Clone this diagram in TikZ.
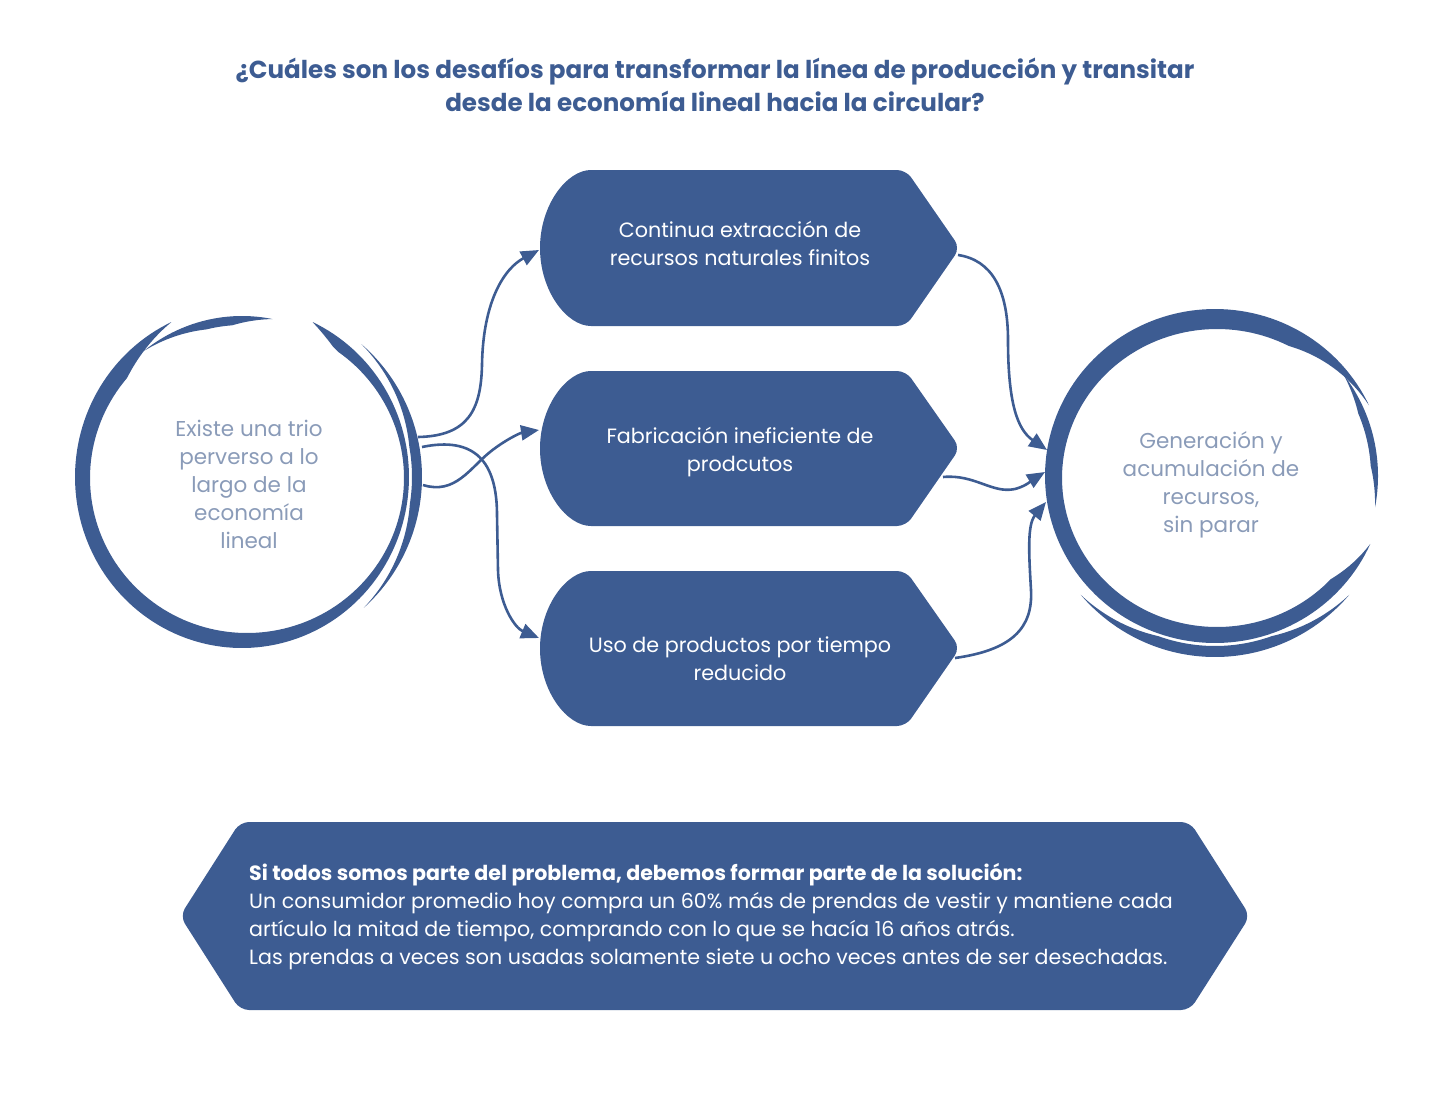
\documentclass[tikz,border=0pt]{standalone}
\usepackage{fontspec}
\setmainfont{Poppins}
\usetikzlibrary{arrows.meta}
\definecolor{ink}{HTML}{3D5C92}
\definecolor{soft}{HTML}{8A9BB8}
\newcommand\setouter[4]{\def\Ocx{#1}\def\Ocy{#2}\def\Orx{#3}\def\Ory{#4}}
\newcommand\setinner[4]{\def\Icx{#1}\def\Icy{#2}\def\Irx{#3}\def\Iry{#4}}
\newcommand\brushfrac[4]{min(1,((\x)-(#1))/((#3)*((#2)-(#1))),((#2)-(\x))/((#4)*((#2)-(#1))))}
\newcommand\mybrush[4]{%
  \fill[ink] plot[domain=#1:#2,samples=150] ({\Ocx+\Orx*cos(\x)},{\Ocy+\Ory*sin(\x)})
  -- plot[domain=#2:#1,samples=150] ({\Ocx+\Orx*cos(\x)+\brushfrac{#1}{#2}{#3}{#4}*(\Icx+\Irx*cos(\x)-\Ocx-\Orx*cos(\x))},{\Ocy+\Ory*sin(\x)+\brushfrac{#1}{#2}{#3}{#4}*(\Icy+\Iry*sin(\x)-\Ocy-\Ory*sin(\x))}) -- cycle;}
\tikzset{
  conn/.style={draw=ink, line width=2.6pt, -{Triangle[length=18pt,width=15pt]}},
  boxfill/.style={fill=ink, rounded corners=9pt},
  boxtext/.style={text=white, align=center, font=\fontsize{20.7}{28}\selectfont, inner sep=0pt},
  circtext/.style={text=soft, align=center, font=\fontsize{21.5}{28}\selectfont, inner sep=0pt},
  titletext/.style={text=ink, align=center, font=\fontsize{24.6}{33}\selectfont\bfseries, inner sep=0pt},
  bottomtext/.style={text=white, align=left, font=\fontsize{20.6}{28}\selectfont, inner sep=0pt},
}
\begin{document}
\begin{tikzpicture}[x=1pt,y=-1pt]
\useasboundingbox (0,0) rectangle (1430,1114);

% title
\node[titletext] (title) at (715,85) {¿Cuáles son los desafíos para transformar la línea de producción y transitar\\desde la economía lineal hacia la circular?};

% connector end points
\coordinate (lA) at (418,437);
\coordinate (lB) at (423,485);
\coordinate (lC) at (422,447);
\coordinate (b1w) at (539,250);
\coordinate (b2w) at (539,430);
\coordinate (b3w) at (539,638);
\coordinate (b1e) at (958,255);
\coordinate (b2e) at (943,477);
\coordinate (b3e) at (955,658);
\coordinate (rA) at (1047,450);
\coordinate (rB) at (1045,472);
\coordinate (rC) at (1046,502);

% connectors
\draw[conn] (lA) .. controls (468,436) and (481,410) .. (482,365) .. controls (483,300) and (505,268) .. (b1w);
\draw[conn] (lB) .. controls (455,495) and (470,468) .. (490,452) .. controls (505,440) and (520,433) .. (b2w);
\draw[conn] (lC) .. controls (475,436) and (497,462) .. (497,515) -- (498,570) .. controls (499,605) and (515,628) .. (b3w);
\draw[conn] (b1e) .. controls (992,260) and (1008,290) .. (1008,340) .. controls (1008,405) and (1018,430) .. (rA);
\draw[conn] (b2e) .. controls (975,474) and (992,494) .. (1015,489) .. controls (1027,486) and (1035,478) .. (rB);
\draw[conn] (b3e) .. controls (1012,650) and (1033,628) .. (1031,590) .. controls (1029,555) and (1027,525) .. (rC);

% left brush circle
\setouter{242}{477}{167}{171}\setinner{247}{478}{157}{155}
\mybrush{295}{605}{0.03}{0.08}
\setouter{246}{477}{176}{176}\setinner{246}{477}{166}{168}
\mybrush{-49}{48}{0.4}{0.4}
\setouter{242}{482}{160}{166}\setinner{242}{484}{152}{159}
\mybrush{232}{281}{0.5}{0.3}

% right brush circle
\setouter{1215}{476}{170}{167}\setinner{1217}{478}{155}{149}
\mybrush{24}{335}{0.06}{0.12}
\setouter{1215}{476}{163}{165}\setinner{1215}{476}{156}{158}
\mybrush{-38}{11}{0.3}{0.3}
\setouter{1215}{476}{178}{181}\setinner{1215}{474}{170}{172}
\mybrush{41}{139}{0.3}{0.3}

% boxes
\fill[boxfill] (750,170) -- (906,170) -- (960,248) -- (906,326) -- (600,326) arc[start angle=90,end angle=270,x radius=60,y radius=78] -- cycle;
\fill[boxfill] (750,371) -- (906,371) -- (960,448) -- (906,526) -- (600,526) arc[start angle=90,end angle=270,x radius=60,y radius=77.5] -- cycle;
\fill[boxfill] (750,571) -- (906,571) -- (960,648) -- (906,726) -- (600,726) arc[start angle=90,end angle=270,x radius=60,y radius=77.5] -- cycle;
\fill[boxfill] (700,822) -- (1190,822) -- (1250,916) -- (1190,1010) -- (240,1010) -- (180,916) -- (240,822) -- cycle;

% texts
\node[circtext] (lc) at (249,484) {Existe una trio\\perverso a lo\\largo de la\\economía\\lineal};
\node[circtext] (rc) at (1211,485) {Generación y\\acumulación de\\recursos,\\sin parar};
\node[boxtext] (b1) at (740,243) {Continua extracción de\\recursos naturales finitos};
\node[boxtext] (b2) at (740,452) {Fabricación ineficiente de\\prodcutos};
\node[boxtext] (b3) at (740,659) {Uso de productos por tiempo\\reducido};
\node[bottomtext, anchor=west] (bt) at (249,917) {{\bfseries Si todos somos parte del problema, debemos formar parte de la solución:}\\Un consumidor promedio hoy compra un 60\% más de prendas de vestir y mantiene cada\\artículo la mitad de tiempo, comprando con lo que se hacía 16 años atrás.\\Las prendas a veces son usadas solamente siete u ocho veces antes de ser desechadas.};
\end{tikzpicture}
\end{document}
